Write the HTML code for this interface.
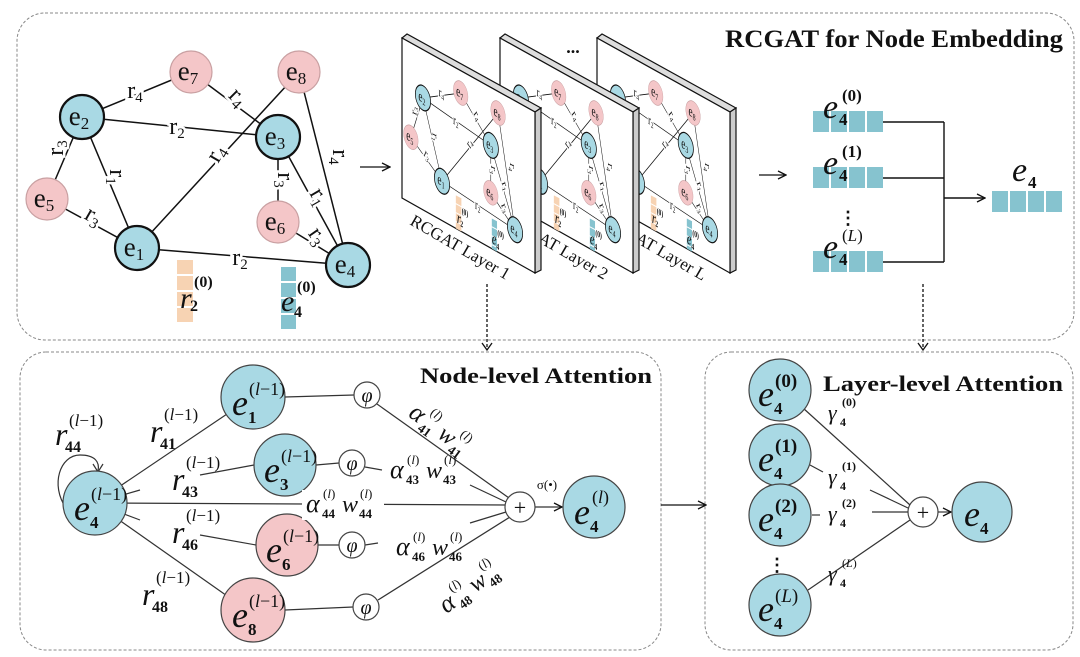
<!DOCTYPE html>
<html><head><meta charset="utf-8">
<style>
html,body{margin:0;padding:0;background:#fff;}
svg{display:block;}
text{font-family:"Liberation Serif",serif;fill:#111;}
.el{font-size:24px;paint-order:stroke;stroke:#fff;stroke-width:5px;}
.nl{font-size:27px;}
.it{font-style:italic;}
.b{font-weight:bold;}
</style></head><body>
<svg width="1080" height="657" viewBox="0 0 1080 657" xmlns="http://www.w3.org/2000/svg">
<defs>
<marker id="ah" markerWidth="10" markerHeight="10" refX="9" refY="5" orient="auto" markerUnits="userSpaceOnUse">
<path d="M1,1 L9,5 L1,9" fill="none" stroke="#111" stroke-width="1.3"/></marker>
<g id="graph">
 <g stroke="#111" stroke-width="1.5" fill="none">
  <line x1="82" y1="117" x2="191" y2="72"/>
  <line x1="191" y1="72" x2="278" y2="137"/>
  <line x1="82" y1="117" x2="278" y2="137"/>
  <line x1="82" y1="117" x2="47" y2="199"/>
  <line x1="82" y1="117" x2="137" y2="248"/>
  <line x1="47" y1="199" x2="137" y2="248"/>
  <line x1="137" y1="248" x2="299" y2="72"/>
  <line x1="137" y1="248" x2="348" y2="265"/>
  <line x1="278" y1="137" x2="278" y2="222"/>
  <line x1="278" y1="137" x2="348" y2="265"/>
  <line x1="299" y1="72" x2="348" y2="265"/>
  <line x1="278" y1="222" x2="348" y2="265"/>
 </g>
 <text class="el" x="135" y="98" text-anchor="middle">r<tspan font-size="15" dy="4">4</tspan></text>
 <text class="el" transform="translate(233,102) rotate(45)" text-anchor="middle">r<tspan font-size="15" dy="4">4</tspan></text>
 <text class="el" x="177" y="134" text-anchor="middle">r<tspan font-size="15" dy="4">2</tspan></text>
 <text class="el" transform="translate(63,148) rotate(-90)" text-anchor="middle">r<tspan font-size="15" dy="4">3</tspan></text>
 <text class="el" transform="translate(110,177) rotate(90)" text-anchor="middle">r<tspan font-size="15" dy="4">1</tspan></text>
 <text class="el" transform="translate(222,157) rotate(-60)" text-anchor="middle">r<tspan font-size="15" dy="4">4</tspan></text>
 <text class="el" transform="translate(278,180) rotate(90)" text-anchor="middle">r<tspan font-size="15" dy="4">3</tspan></text>
 <text class="el" transform="translate(313,200) rotate(60)" text-anchor="middle">r<tspan font-size="15" dy="4">1</tspan></text>
 <text class="el" transform="translate(333,157) rotate(90)" text-anchor="middle">r<tspan font-size="15" dy="4">4</tspan></text>
 <text class="el" transform="translate(90,222) rotate(30)" text-anchor="middle">r<tspan font-size="15" dy="4">3</tspan></text>
 <text class="el" transform="translate(312,240) rotate(55)" text-anchor="middle">r<tspan font-size="15" dy="4">3</tspan></text>
 <text class="el" x="240" y="265" text-anchor="middle">r<tspan font-size="15" dy="4">2</tspan></text>
 <g stroke-width="1.2">
  <circle cx="191" cy="72" r="21" fill="#f4c6c8" stroke="#c9a0a2"/>
  <circle cx="299" cy="72" r="21" fill="#f4c6c8" stroke="#c9a0a2"/>
  <circle cx="47" cy="199" r="21" fill="#f4c6c8" stroke="#c9a0a2"/>
  <circle cx="278" cy="222" r="21" fill="#f4c6c8" stroke="#c9a0a2"/>
 </g>
 <g stroke="#111" stroke-width="2.2" fill="#a9d9e4">
  <circle cx="82" cy="117" r="22"/>
  <circle cx="278" cy="137" r="22"/>
  <circle cx="137" cy="248" r="22"/>
  <circle cx="348" cy="265" r="22"/>
 </g>
 <text class="nl" x="188" y="80" text-anchor="middle">e<tspan font-size="17" dy="4">7</tspan></text>
 <text class="nl" x="296" y="80" text-anchor="middle">e<tspan font-size="17" dy="4">8</tspan></text>
 <text class="nl" x="44" y="207" text-anchor="middle">e<tspan font-size="17" dy="4">5</tspan></text>
 <text class="nl" x="275" y="230" text-anchor="middle">e<tspan font-size="17" dy="4">6</tspan></text>
 <text class="nl" x="79" y="125" text-anchor="middle">e<tspan font-size="17" dy="4">2</tspan></text>
 <text class="nl" x="275" y="145" text-anchor="middle">e<tspan font-size="17" dy="4">3</tspan></text>
 <text class="nl" x="134" y="256" text-anchor="middle">e<tspan font-size="17" dy="4">1</tspan></text>
 <text class="nl" x="345" y="273" text-anchor="middle">e<tspan font-size="17" dy="4">4</tspan></text>
 <g fill="#f7d3b3">
  <rect x="177" y="260" width="16" height="14"/><rect x="177" y="276" width="16" height="14"/>
  <rect x="177" y="292" width="16" height="14"/><rect x="177" y="308" width="16" height="14"/>
 </g>
 <g fill="#86c3cf">
  <rect x="281" y="267" width="15" height="14"/><rect x="281" y="283" width="15" height="14"/>
  <rect x="281" y="299" width="15" height="14"/><rect x="281" y="315" width="15" height="14"/>
 </g>
 <text x="180" y="308" font-size="30" class="it">r</text>
 <text x="190" y="311" font-size="16" class="b">2</text>
 <text x="194" y="287" font-size="16" class="b">(0)</text>
 <text x="281" y="311" font-size="30" class="it">e</text>
 <text x="294" y="317" font-size="16" class="b">4</text>
 <text x="297" y="292" font-size="16" class="b">(0)</text>
</g>
<clipPath id="c0"><polygon points="402,38 535,112 535,273 402,198"/></clipPath>
</defs>

<g fill="none" stroke="#888" stroke-width="1" stroke-dasharray="3,2">
 <rect x="17" y="13" width="1057" height="327" rx="28"/>
 <rect x="20" y="352" width="641" height="298" rx="26"/>
 <rect x="705" y="352" width="368" height="298" rx="26"/>
</g>
<text x="725" y="47" font-size="25" class="b" textLength="338" lengthAdjust="spacingAndGlyphs">RCGAT for Node Embedding</text>

<use href="#graph"/>
<line x1="360" y1="167" x2="390" y2="167" stroke="#111" stroke-width="1.3" marker-end="url(#ah)"/>

<g transform="translate(195,0)">
 <polygon points="402,38 407,34 541,108 535,112" fill="#ddd" stroke="#111" stroke-width="1.2"/>
 <polygon points="535,112 541,108 541,270 535,273" fill="#ccc" stroke="#111" stroke-width="1.2"/>
 <polygon points="402,38 535,112 535,273 402,198" fill="#fff" stroke="#111" stroke-width="1.2"/>
 <g clip-path="url(#c0)"><use href="#graph" transform="matrix(0.346,0.185,0,0.558,394.6,17.5)"/></g>
 <text transform="translate(409,224) rotate(30)" font-size="17">RCGAT Layer L</text>
</g>
<g transform="translate(98,0)">
 <polygon points="402,38 407,34 541,108 535,112" fill="#ddd" stroke="#111" stroke-width="1.2"/>
 <polygon points="535,112 541,108 541,270 535,273" fill="#ccc" stroke="#111" stroke-width="1.2"/>
 <polygon points="402,38 535,112 535,273 402,198" fill="#fff" stroke="#111" stroke-width="1.2"/>
 <g clip-path="url(#c0)"><use href="#graph" transform="matrix(0.346,0.185,0,0.558,394.6,17.5)"/></g>
 <text transform="translate(409,224) rotate(30)" font-size="17">RCGAT Layer 2</text>
</g>
<g>
 <polygon points="402,38 407,34 541,108 535,112" fill="#ddd" stroke="#111" stroke-width="1.2"/>
 <polygon points="535,112 541,108 541,270 535,273" fill="#ccc" stroke="#111" stroke-width="1.2"/>
 <polygon points="402,38 535,112 535,273 402,198" fill="#fff" stroke="#111" stroke-width="1.2"/>
 <g clip-path="url(#c0)"><use href="#graph" transform="matrix(0.346,0.185,0,0.558,394.6,17.5)"/></g>
 <text transform="translate(409,224) rotate(30)" font-size="17">RCGAT Layer 1</text>
</g>
<text x="573" y="53" font-size="18" class="b" text-anchor="middle">...</text>
<line x1="759" y1="175" x2="786" y2="175" stroke="#111" stroke-width="1.3" marker-end="url(#ah)"/>

<g fill="#86c3cf">
 <rect x="813" y="111" width="16" height="21"/><rect x="831" y="111" width="16" height="21"/><rect x="849" y="111" width="16" height="21"/><rect x="867" y="111" width="16" height="21"/>
 <rect x="813" y="167" width="16" height="21"/><rect x="831" y="167" width="16" height="21"/><rect x="849" y="167" width="16" height="21"/><rect x="867" y="167" width="16" height="21"/>
 <rect x="813" y="251" width="16" height="21"/><rect x="831" y="251" width="16" height="21"/><rect x="849" y="251" width="16" height="21"/><rect x="867" y="251" width="16" height="21"/>
 <rect x="992" y="191" width="16" height="21"/><rect x="1010" y="191" width="16" height="21"/><rect x="1028" y="191" width="16" height="21"/><rect x="1046" y="191" width="16" height="21"/>
</g>
<g stroke="#111" stroke-width="1.4" fill="none">
 <line x1="883" y1="122" x2="944" y2="122"/><line x1="883" y1="178" x2="944" y2="178"/><line x1="883" y1="262" x2="944" y2="262"/>
 <line x1="944" y1="122" x2="944" y2="262"/>
</g>
<line x1="944" y1="198" x2="985" y2="198" stroke="#111" stroke-width="1.4" marker-end="url(#ah)"/>
<text x="823" y="118" font-size="34" class="it">e</text><text x="839" y="125" font-size="17" class="b">4</text><text x="842" y="101" font-size="17" class="b">(0)</text>
<text x="823" y="174" font-size="34" class="it">e</text><text x="839" y="181" font-size="17" class="b">4</text><text x="842" y="157" font-size="17" class="b">(1)</text>
<text x="823" y="258" font-size="34" class="it">e</text><text x="839" y="265" font-size="17" class="b">4</text><text x="842" y="241" font-size="17">(<tspan class="it">L</tspan>)</text>
<text x="848" y="224" font-size="18" class="b" text-anchor="middle">⋮</text>
<text x="1012" y="181" font-size="34" class="it">e</text><text x="1028" y="188" font-size="17" class="b">4</text>

<g stroke="#111" stroke-width="1.3" stroke-dasharray="3,2">
 <line x1="487" y1="284" x2="487" y2="349"/><line x1="923" y1="284" x2="923" y2="349"/>
</g>
<path d="M482,343 L487,350 L492,343" fill="none" stroke="#111" stroke-width="1.3"/>
<path d="M918,343 L923,350 L928,343" fill="none" stroke="#111" stroke-width="1.3"/>

<text x="420" y="383" font-size="22" class="b" textLength="232" lengthAdjust="spacingAndGlyphs">Node-level Attention</text>
<g stroke="#333" stroke-width="1.2" fill="none">
 <line x1="95" y1="503" x2="230" y2="412"/>
 <line x1="95" y1="503" x2="140" y2="490"/>
 <line x1="200" y1="475" x2="254" y2="465"/>
 <line x1="95" y1="503" x2="507" y2="505"/>
 <line x1="95" y1="503" x2="140" y2="520"/>
 <line x1="200" y1="535" x2="256" y2="545"/>
 <line x1="95" y1="503" x2="230" y2="598"/>
 <line x1="285" y1="397" x2="354" y2="395"/>
 <line x1="316" y1="465" x2="339" y2="463"/>
 <line x1="318" y1="545" x2="339" y2="545"/>
 <line x1="285" y1="610" x2="353" y2="607"/>
 <line x1="377" y1="404" x2="509" y2="498"/>
 <line x1="365" y1="467" x2="382" y2="470"/>
 <line x1="470" y1="485" x2="506" y2="502"/>
 <line x1="365" y1="545" x2="378" y2="543"/>
 <line x1="470" y1="523" x2="506" y2="512"/>
 <line x1="378" y1="600" x2="510" y2="517"/>
 <path d="M66,508 C50,485 60,455 80,455 C95,455 100,462 98,471"/>
</g>
<path d="M93,464 L98,472 L103,464" fill="none" stroke="#333" stroke-width="1.2"/>
<line x1="535" y1="507" x2="562" y2="507" stroke="#333" stroke-width="1.2" marker-end="url(#ah)"/>
<line x1="661" y1="505" x2="706" y2="505" stroke="#111" stroke-width="1.3" marker-end="url(#ah)"/>

<g stroke="#444" stroke-width="1.2">
 <circle cx="95" cy="503" r="32" fill="#a9d9e4"/>
 <circle cx="253" cy="397" r="32" fill="#a9d9e4"/>
 <circle cx="285" cy="465" r="31" fill="#a9d9e4"/>
 <circle cx="287" cy="545" r="31" fill="#f4c6c8"/>
 <circle cx="253" cy="610" r="32" fill="#f4c6c8"/>
 <circle cx="594" cy="507" r="31" fill="#a9d9e4"/>
 <circle cx="367" cy="395" r="13" fill="#fff"/>
 <circle cx="352" cy="463" r="13" fill="#fff"/>
 <circle cx="352" cy="545" r="13" fill="#fff"/>
 <circle cx="366" cy="607" r="13" fill="#fff"/>
 <circle cx="520" cy="507" r="15" fill="#fff"/>
 <circle cx="923" cy="512" r="15" fill="#fff"/>
</g>
<g font-size="20" class="it" text-anchor="middle">
 <text x="367" y="402">φ</text><text x="352" y="470">φ</text><text x="352" y="552">φ</text><text x="366" y="614">φ</text>
</g>
<text x="520" y="515" font-size="22" text-anchor="middle">+</text>
<text x="923" y="520" font-size="22" text-anchor="middle">+</text>
<text x="547" y="489" font-size="13" text-anchor="middle">σ(•)</text>

<g>
 <text x="74" y="520" font-size="36" class="it">e</text><text x="90" y="528" font-size="17" class="b">4</text><text x="91" y="500" font-size="18">(<tspan class="it">l</tspan>−1)</text>
 <text x="232" y="415" font-size="36" class="it">e</text><text x="248" y="423" font-size="17" class="b">1</text><text x="249" y="395" font-size="18">(<tspan class="it">l</tspan>−1)</text>
 <text x="264" y="482" font-size="36" class="it">e</text><text x="280" y="490" font-size="17" class="b">3</text><text x="281" y="462" font-size="18">(<tspan class="it">l</tspan>−1)</text>
 <text x="266" y="562" font-size="36" class="it">e</text><text x="282" y="570" font-size="17" class="b">6</text><text x="283" y="542" font-size="18">(<tspan class="it">l</tspan>−1)</text>
 <text x="232" y="627" font-size="36" class="it">e</text><text x="248" y="635" font-size="17" class="b">8</text><text x="249" y="607" font-size="18">(<tspan class="it">l</tspan>−1)</text>
 <text x="574" y="524" font-size="36" class="it">e</text><text x="590" y="532" font-size="17" class="b">4</text><text x="592" y="503" font-size="18">(<tspan class="it">l</tspan>)</text>
</g>
<g>
 <text x="55" y="445" font-size="32" class="it">r</text><text x="65" y="452" font-size="16" class="b">44</text><text x="69" y="426" font-size="17">(<tspan class="it">l</tspan>−1)</text>
 <text x="150" y="442" font-size="32" class="it">r</text><text x="160" y="449" font-size="16" class="b">41</text><text x="164" y="420" font-size="17">(<tspan class="it">l</tspan>−1)</text>
 <text x="172" y="490" font-size="32" class="it">r</text><text x="182" y="497" font-size="16" class="b">43</text><text x="186" y="468" font-size="17">(<tspan class="it">l</tspan>−1)</text>
 <text x="172" y="543" font-size="32" class="it">r</text><text x="182" y="550" font-size="16" class="b">46</text><text x="186" y="521" font-size="17">(<tspan class="it">l</tspan>−1)</text>
 <text x="142" y="605" font-size="32" class="it">r</text><text x="152" y="612" font-size="16" class="b">48</text><text x="156" y="583" font-size="17">(<tspan class="it">l</tspan>−1)</text>
</g>
<g transform="translate(440,432) rotate(36)">
 <text x="-36" y="6" font-size="26" class="it">α</text><text x="-20" y="12" font-size="13" class="b">41</text><text x="-19" y="-8" font-size="13">(<tspan class="it">l</tspan>)</text>
 <text x="0" y="6" font-size="24" class="it">w</text><text x="17" y="12" font-size="13" class="b">41</text><text x="18" y="-8" font-size="13">(<tspan class="it">l</tspan>)</text>
</g>
<g transform="translate(426,472)">
 <text x="-36" y="6" font-size="26" class="it">α</text><text x="-20" y="12" font-size="13" class="b">43</text><text x="-19" y="-8" font-size="13">(<tspan class="it">l</tspan>)</text>
 <text x="0" y="6" font-size="24" class="it">w</text><text x="17" y="12" font-size="13" class="b">43</text><text x="18" y="-8" font-size="13">(<tspan class="it">l</tspan>)</text>
</g>
<g transform="translate(342,506)">
 <rect x="-40" y="-16" width="82" height="30" fill="#fff"/>
 <text x="-36" y="6" font-size="26" class="it">α</text><text x="-20" y="12" font-size="13" class="b">44</text><text x="-19" y="-8" font-size="13">(<tspan class="it">l</tspan>)</text>
 <text x="0" y="6" font-size="24" class="it">w</text><text x="17" y="12" font-size="13" class="b">44</text><text x="18" y="-8" font-size="13">(<tspan class="it">l</tspan>)</text>
</g>
<g transform="translate(432,549)">
 <text x="-36" y="6" font-size="26" class="it">α</text><text x="-20" y="12" font-size="13" class="b">46</text><text x="-19" y="-8" font-size="13">(<tspan class="it">l</tspan>)</text>
 <text x="0" y="6" font-size="24" class="it">w</text><text x="17" y="12" font-size="13" class="b">46</text><text x="18" y="-8" font-size="13">(<tspan class="it">l</tspan>)</text>
</g>
<g transform="translate(472,588) rotate(-36)">
 <text x="-36" y="6" font-size="26" class="it">α</text><text x="-20" y="12" font-size="13" class="b">48</text><text x="-19" y="-8" font-size="13">(<tspan class="it">l</tspan>)</text>
 <text x="0" y="6" font-size="24" class="it">w</text><text x="17" y="12" font-size="13" class="b">48</text><text x="18" y="-8" font-size="13">(<tspan class="it">l</tspan>)</text>
</g>

<text x="823" y="391" font-size="22" class="b" textLength="240" lengthAdjust="spacingAndGlyphs">Layer-level Attention</text>
<g stroke="#333" stroke-width="1.2">
 <line x1="803" y1="408" x2="910" y2="505"/>
 <line x1="810" y1="465" x2="823" y2="472"/>
 <line x1="870" y1="490" x2="908" y2="508"/>
 <line x1="812" y1="515" x2="820" y2="515"/>
 <line x1="872" y1="512" x2="908" y2="512"/>
 <line x1="808" y1="590" x2="910" y2="520"/>
</g>
<line x1="938" y1="512" x2="951" y2="512" stroke="#333" stroke-width="1.2" marker-end="url(#ah)"/>
<g stroke="#444" stroke-width="1.2" fill="#a9d9e4">
 <circle cx="780" cy="390" r="31"/><circle cx="780" cy="455" r="31"/><circle cx="780" cy="515" r="31"/><circle cx="780" cy="605" r="31"/>
 <circle cx="982" cy="512" r="30"/>
</g>
<g>
 <text x="758" y="406" font-size="36" class="it">e</text><text x="774" y="414" font-size="17" class="b">4</text><text x="775" y="387" font-size="19" class="b">(0)</text>
 <text x="758" y="471" font-size="36" class="it">e</text><text x="774" y="479" font-size="17" class="b">4</text><text x="775" y="452" font-size="19" class="b">(1)</text>
 <text x="758" y="531" font-size="36" class="it">e</text><text x="774" y="539" font-size="17" class="b">4</text><text x="775" y="512" font-size="19" class="b">(2)</text>
 <text x="758" y="621" font-size="36" class="it">e</text><text x="774" y="629" font-size="17" class="b">4</text><text x="775" y="602" font-size="19">(<tspan class="it">L</tspan>)</text>
 <text x="777" y="571" font-size="18" class="b" text-anchor="middle">⋮</text>
 <text x="964" y="526" font-size="36" class="it">e</text><text x="980" y="534" font-size="17" class="b">4</text>
</g>
<g>
 <text x="828" y="420" font-size="22" class="it">γ</text><text x="840" y="426" font-size="12" class="b">4</text><text x="842" y="406" font-size="12" class="b">(0)</text>
 <text x="828" y="484" font-size="22" class="it">γ</text><text x="840" y="490" font-size="12" class="b">4</text><text x="842" y="470" font-size="12" class="b">(1)</text>
 <text x="828" y="521" font-size="22" class="it">γ</text><text x="840" y="527" font-size="12" class="b">4</text><text x="842" y="507" font-size="12" class="b">(2)</text>
 <text x="828" y="581" font-size="22" class="it">γ</text><text x="840" y="587" font-size="12" class="b">4</text><text x="842" y="567" font-size="12">(<tspan class="it">L</tspan>)</text>
</g>
</svg>
</body></html>
